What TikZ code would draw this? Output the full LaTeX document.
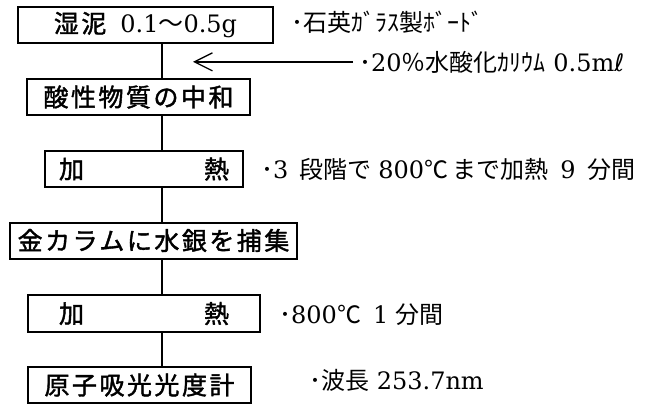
\documentclass[tikz,border=0pt]{standalone}
\usepackage{fontspec}
\setmainfont{Noto Sans CJK JP}
\newfontfamily\jpfont{Noto Sans CJK JP}
\newfontfamily\jpbox[LetterSpace=10,FakeBold=1.6]{Noto Sans CJK JP}
\newfontfamily\latfont{DejaVu Serif}
\newfontfamily\symfont{DejaVu Sans}
\newcommand\la[1]{{\latfont\fontsize{24}{24}\selectfont #1}}
\newcommand\lb[1]{{\latfont\fontsize{24}{24}\selectfont #1}}
\usetikzlibrary{arrows.meta}
\begin{document}
\begin{tikzpicture}[x=1pt,y=-1pt,
  box/.style={draw, line width=2pt, inner sep=0pt, minimum height=36pt,
    font=\jpbox\fontsize{25}{25}\selectfont},
  note/.style={anchor=base west, inner sep=0pt,
    font=\jpfont\fontsize{24}{24}\selectfont},
  spine/.style={line width=2.4pt},
  feed/.style={line width=1.3pt, -{Straight Barb[length=18pt,width=18pt,line width=1.3pt]}}]
\useasboundingbox (0,0) rectangle (651,405);
% boxes
\node[box, minimum width=255pt] (b1) at (145.5,25) {湿泥\hspace{14pt}\lb{0.1}{\jpfont〜}\lb{0.5g}};
\node[box, minimum width=223pt] (b2) at (138.5,97) {酸性物質の中和};
\node[box, minimum width=198pt] (b3) at (144,169) {加\hspace{120pt}熱};
\node[box, minimum width=287pt] (b4) at (153.5,240.5) {金カラムに水銀を捕集};
\node[box, minimum width=232pt, minimum height=37pt] (b5) at (144,313.5) {加\hspace{120pt}熱};
\node[box, minimum width=223pt] (b6) at (139.5,385) {原子吸光光度計};
% spine
\coordinate (spine) at (162,0);
\draw[spine] (b1.south -| spine) -- (b2.north -| spine);
\draw[spine] (b2.south -| spine) -- (b3.north -| spine);
\draw[spine] (b3.south -| spine) -- (b4.north -| spine);
\draw[spine] (b4.south -| spine) -- (b5.north -| spine);
\draw[spine] (b5.south -| spine) -- (b6.north -| spine);
% notes
\node[note] (a1) at (291,31) {･石英ｶﾞﾗｽ製ﾎﾞｰﾄﾞ};
\node[note] (a2) at (359,71) {･\la{20}％水酸化ｶﾘｳﾑ\la{ 0.5m}{\symfont\fontsize{24}{24}\selectfont ℓ}};
\node[note] (a3) at (261,178) {･\la{3}\hspace{11pt}段階で\hspace{7pt}\la{800}℃\hspace{4pt}まで加熱\hspace{12pt}\la{9}\hspace{12pt}分間};
\node[note] (a4) at (279,323) {･\la{800}℃\hspace{12pt}\la{1 }分間};
\node[note] (a5) at (309,389) {･波長\la{ 253.7nm}};
% feed arrow
\coordinate (tip) at (193,62);
\draw[feed] ([xshift=-6pt]a2.west) -- (tip |- a2.west);
\end{tikzpicture}
\end{document}
